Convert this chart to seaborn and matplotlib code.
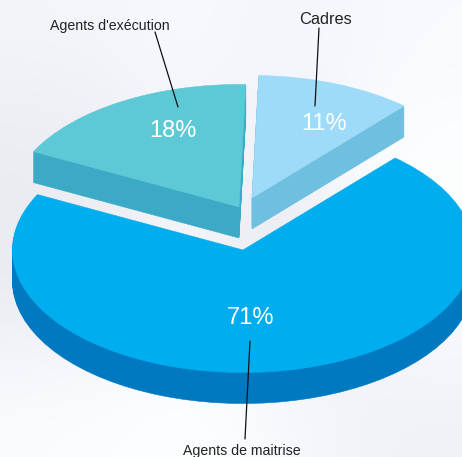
import numpy as np
import matplotlib
matplotlib.use("Agg")
import matplotlib.pyplot as plt
import seaborn as sns

categories = ["Cadres", "Agents d'exécution", "Agents de maitrise"]
values = [11, 18, 71]
pct_labels = ["11%", "18%", "71%"]
top_colors = ["#9DDBF9", "#5DC8D6", "#00AEEF"]
side_colors = ["#6FBFE0", "#3CAAC7", "#0079C1"]

W, H = 462, 457
CX, CY, RX, RY = 243.0, 250.0, 230.5, 122.5
DEPTH = 31
START = 48.7
# wedge displacement in pixels (right, down)
shift_px = [(9, -52), (-4, -43), (0, 0)]
label_px = [(326, 19), (110, 25.5), (242, 450.5)]
label_size = [11.8, 10.2, 10.2]
pct_px = [(324, 124), (173, 131), (250, 318)]
leaders = [((319, 28), (315, 106)), ((155, 32), (178, 107)), ((250, 341), (245, 439))]

sns.set_theme(style="white")
plt.rcParams["font.family"] = ["Liberation Sans", "DejaVu Sans"]

fig = plt.figure(figsize=(W / 100, H / 100), dpi=100)
ax = fig.add_axes([0, 0, 1, 1])


def dx(x):
    return (x - CX) / RX


def dy(y):
    return (CY - y) / RY


xlim = (dx(0), dx(W))
ylim = (dy(H), dy(0))

# soft pale background wash
wash = np.array([
    [243, 244, 248, 243, 246, 248],
    [238, 240, 246, 241, 246, 250],
    [235, 238, 245, 238, 248, 253],
    [233, 236, 245, 232, 242, 253],
    [235, 238, 245, 232, 238, 250],
    [243, 246, 250, 245, 241, 245],
    [250, 251, 253, 248, 242, 240],
], dtype=float)
wash_rgb = np.stack([wash, wash + 2, np.minimum(wash + 7, 255)], axis=-1) / 255
wash_rgb = np.clip(wash_rgb, 0, 1)
ax.imshow(wash_rgb, extent=(*xlim, *ylim), origin="upper",
          interpolation="bicubic", aspect="auto", zorder=0)


def draw_layer(colors, drop, zorder):
    wedges, _ = ax.pie(values, colors=colors, startangle=START, radius=1.0,
                       counterclock=True, frame=True,
                       wedgeprops=dict(linewidth=0.4, zorder=zorder))
    for w, c, (sx, sy) in zip(wedges, colors, shift_px):
        w.set_center((sx / RX, -(sy + drop) / RY))
        w.set_edgecolor(c)
        w.set_zorder(zorder)


for d in range(DEPTH, 0, -1):
    draw_layer(side_colors, d, 2)
draw_layer(top_colors, 0, 3)

ax.set_aspect("auto")
ax.set_xlim(*xlim)
ax.set_ylim(*ylim)
ax.axis("off")

for (a, b) in leaders:
    ax.plot([dx(a[0]), dx(b[0])], [dy(a[1]), dy(b[1])], color="#111111", lw=0.9, zorder=4)

for name, (x, y), s in zip(categories, label_px, label_size):
    ax.text(dx(x), dy(y), name, ha="center", va="center", fontsize=s, color="#222222", zorder=5)

for p, (x, y) in zip(pct_labels, pct_px):
    ax.text(dx(x), dy(y), p, ha="center", va="center", fontsize=17, color="white", zorder=5)

fig.savefig("out.png", dpi=100)
